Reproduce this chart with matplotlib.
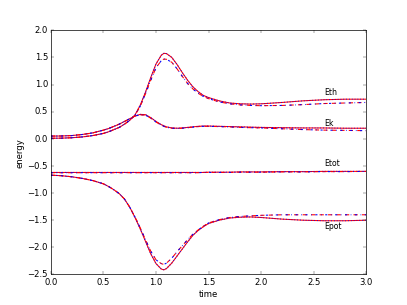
import matplotlib
matplotlib.use('Agg')
import matplotlib.pyplot as plt

plt.style.use('classic')

time = [0.0, 0.1, 0.2, 0.3, 0.4, 0.5, 0.55, 0.6, 0.65, 0.7, 0.75, 0.8, 0.85,
        0.9, 0.95, 1.0, 1.05, 1.075, 1.1, 1.15, 1.2, 1.25, 1.3, 1.35, 1.4,
        1.45, 1.5, 1.6, 1.7, 1.8, 1.9, 2.0, 2.2, 2.4, 2.6, 2.8, 3.0]

# run A (solid)
eth_a = [0.01, 0.012, 0.02, 0.035, 0.06, 0.10, 0.13, 0.17, 0.21, 0.27, 0.34,
         0.44, 0.62, 0.86, 1.13, 1.38, 1.54, 1.575, 1.57, 1.50, 1.37, 1.22,
         1.08, 0.96, 0.87, 0.80, 0.76, 0.70, 0.66, 0.645, 0.64, 0.645, 0.67,
         0.70, 0.72, 0.73, 0.73]
ek_a = [0.05, 0.052, 0.06, 0.08, 0.11, 0.16, 0.19, 0.23, 0.27, 0.32, 0.37,
        0.42, 0.45, 0.445, 0.39, 0.32, 0.26, 0.24, 0.22, 0.20, 0.195, 0.20,
        0.21, 0.22, 0.23, 0.235, 0.235, 0.23, 0.225, 0.22, 0.215, 0.21, 0.205,
        0.20, 0.20, 0.195, 0.195]
etot_a = [-0.62, -0.62, -0.62, -0.62, -0.62, -0.62, -0.62, -0.62, -0.62,
          -0.62, -0.62, -0.62, -0.62, -0.62, -0.62, -0.62, -0.62, -0.62,
          -0.62, -0.62, -0.62, -0.62, -0.62, -0.62, -0.62, -0.62, -0.615,
          -0.615, -0.615, -0.61, -0.61, -0.61, -0.605, -0.605, -0.60, -0.60,
          -0.60]
epot_a = [-0.67, -0.68, -0.70, -0.73, -0.77, -0.83, -0.88, -0.94, -1.01,
          -1.11, -1.26, -1.45, -1.66, -1.89, -2.12, -2.30, -2.40, -2.415,
          -2.39, -2.29, -2.16, -2.03, -1.90, -1.78, -1.69, -1.62, -1.56,
          -1.50, -1.46, -1.445, -1.44, -1.45, -1.48, -1.50, -1.51, -1.51,
          -1.50]

# run B (dashed)
eth_b = [0.01, 0.012, 0.02, 0.035, 0.06, 0.10, 0.13, 0.17, 0.21, 0.27, 0.34,
         0.43, 0.60, 0.83, 1.08, 1.31, 1.44, 1.47, 1.465, 1.41, 1.29, 1.15,
         1.02, 0.92, 0.84, 0.78, 0.74, 0.68, 0.645, 0.625, 0.615, 0.61, 0.615,
         0.63, 0.65, 0.66, 0.67]
ek_b = [0.05, 0.052, 0.06, 0.08, 0.11, 0.16, 0.19, 0.23, 0.27, 0.32, 0.37,
        0.42, 0.44, 0.435, 0.38, 0.31, 0.25, 0.23, 0.21, 0.195, 0.19, 0.195,
        0.205, 0.215, 0.225, 0.23, 0.23, 0.225, 0.22, 0.21, 0.205, 0.20,
        0.185, 0.17, 0.16, 0.155, 0.15]
etot_b = [-0.625, -0.625, -0.625, -0.625, -0.625, -0.625, -0.625, -0.625,
          -0.625, -0.625, -0.625, -0.625, -0.625, -0.625, -0.625, -0.625,
          -0.625, -0.625, -0.625, -0.625, -0.625, -0.625, -0.625, -0.625,
          -0.625, -0.62, -0.62, -0.62, -0.62, -0.615, -0.615, -0.615, -0.61,
          -0.61, -0.605, -0.605, -0.60]
epot_b = [-0.67, -0.68, -0.70, -0.73, -0.77, -0.83, -0.88, -0.94, -1.01,
          -1.11, -1.26, -1.44, -1.64, -1.86, -2.07, -2.23, -2.30, -2.315,
          -2.29, -2.20, -2.08, -1.97, -1.86, -1.76, -1.68, -1.61, -1.55,
          -1.49, -1.45, -1.43, -1.42, -1.41, -1.40, -1.40, -1.40, -1.40,
          -1.40]

labels = ['Eth', 'Ek', 'Etot', 'Epot']
label_x = 2.6
label_y = [0.85, 0.29, -0.45, -1.61]

fig = plt.figure(figsize=(8, 6), dpi=50.875)
ax = fig.add_subplot(111)

for ya, yb in [(eth_a, eth_b), (ek_a, ek_b), (etot_a, etot_b), (epot_a, epot_b)]:
    ax.plot(time, ya, 'r-', lw=1.5)
    ax.plot(time, ya, 'b:', lw=1.5)
    ax.plot(time, yb, 'r--', lw=1.5)
    ax.plot(time, yb, 'b-.', lw=1.5)

for lab, ly in zip(labels, label_y):
    ax.text(label_x, ly, lab, fontsize=11, va='center', ha='left')

ax.set_xlim(0, 3)
ax.set_ylim(-2.5, 2.0)
ax.set_xlabel('time')
ax.set_ylabel('energy')

fig.savefig('out.png', dpi=50.875)
